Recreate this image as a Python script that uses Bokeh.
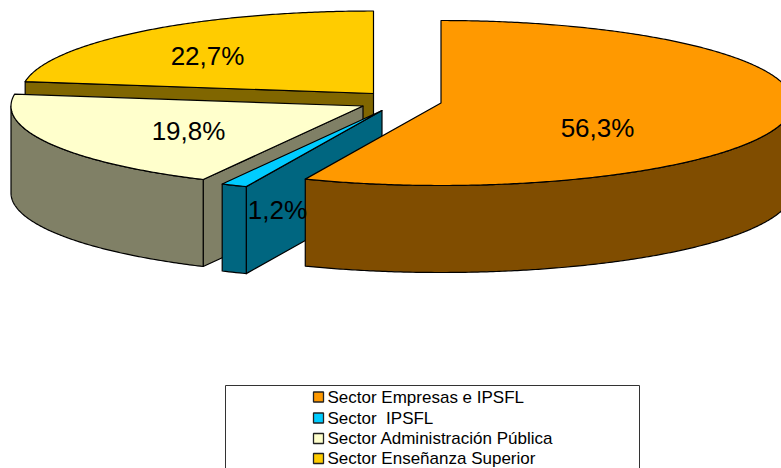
import numpy as np
from bokeh.plotting import figure
from bokeh.models import Range1d
from bokeh.core.properties import value
from bokeh.embed import file_html
from bokeh.resources import INLINE

# Data
categories = ["Sector Empresas e IPSFL", "Sector\u00a0 IPSFL", "Sector Administración Pública", "Sector Enseñanza Superior"]
shares = [56.3, 1.2, 19.8, 22.7]
labels = ["56,3%", "1,2%", "19,8%", "22,7%"]

# Styles
top_colors = ["#FF9900", "#00CCFF", "#FFFFCC", "#FFCC00"]
side_colors = ["#804D00", "#006680", "#808066", "#806600"]

# Layout (screen pixels): each exploded slice's apex, the ellipse radii, extrusion depth
apex_x = [440.5, 381.5, 362.5, 373]
apex_y = [102.5, 110, 105.5, 93]
label_x = [597, 277, 188, 207]
label_y = [127, 209, 130, 55]
RX, RY, DEPTH = 352, 82.5, 87
LEG_LEFT, LEG_RIGHT, LEG_TOP, LEG_BOTTOM = 225, 639, 385, 480
LEG_ROWS = [396.5, 417.5, 438, 458]

W, H = 781, 468
p = figure(width=W, height=H, output_backend="svg", toolbar_location=None,
           x_range=Range1d(0, W), y_range=Range1d(H, 0),
           x_axis_type=None, y_axis_type=None, min_border=0,
           background_fill_color="white", border_fill_color="white", outline_line_color=None)
p.grid.visible = False


def arc(cx, cy, a0, a1, dy=0.0):
    t = np.radians(np.linspace(a0, a1, max(int(abs(a1 - a0) * 2), 2)))
    return cx + RX * np.sin(t), cy - RY * np.cos(t) + dy


def add(xs, ys, fill):
    p.patch(list(xs), list(ys), fill_color=fill, line_color="black", line_width=1.2, line_join="round")


edges = np.concatenate([[0.0], np.cumsum(shares)]) * 3.6
for i in [3, 2, 1, 0]:  # back slices are drawn first
    a0, a1 = edges[i], edges[i + 1]
    cx, cy = apex_x[i], apex_y[i]
    side, top = side_colors[i], top_colors[i]

    # radial faces facing the viewer
    for a, ok in ((a0, np.sin(np.radians(a0)) < -1e-6), (a1, np.sin(np.radians(a1)) > 1e-6)):
        if ok:
            ox, oy = arc(cx, cy, a, a + 1e-3)
            ex, ey = ox[0], oy[0]
            add([cx, ex, ex, cx], [cy, ey, ey + DEPTH, cy + DEPTH], side)

    # outer rim
    r0, r1 = max(a0, 90.0), min(a1, 270.0)
    if r1 > r0:
        tx, ty = arc(cx, cy, r0, r1)
        bx, by = arc(cx, cy, r1, r0, DEPTH)
        add(np.concatenate([tx, bx]), np.concatenate([ty, by]), side)

    # top face
    tx, ty = arc(cx, cy, a0, a1)
    add(np.concatenate([[cx], tx]), np.concatenate([[cy], ty]), top)

p.text(x=label_x, y=label_y, text=labels, text_font=value("Liberation Sans"), text_font_size="26px",
       text_align="center", text_baseline="middle", text_color="black")

# Legend box, cut by the page edge like the reference
p.quad(left=[LEG_LEFT], right=[LEG_RIGHT], top=[LEG_TOP], bottom=[LEG_BOTTOM],
       fill_color="white", line_color="#333333", line_width=1)
p.rect(x=[318] * 4, y=LEG_ROWS, width=10, height=10, fill_color=top_colors,
       line_color="#222222", line_width=1.3)
p.text(x=[327] * 4, y=LEG_ROWS, text=categories, text_font=value("Liberation Sans"), text_font_size="17px",
       text_align="left", text_baseline="middle", text_color="black")

open("out.html", "w").write(file_html(p, INLINE))
